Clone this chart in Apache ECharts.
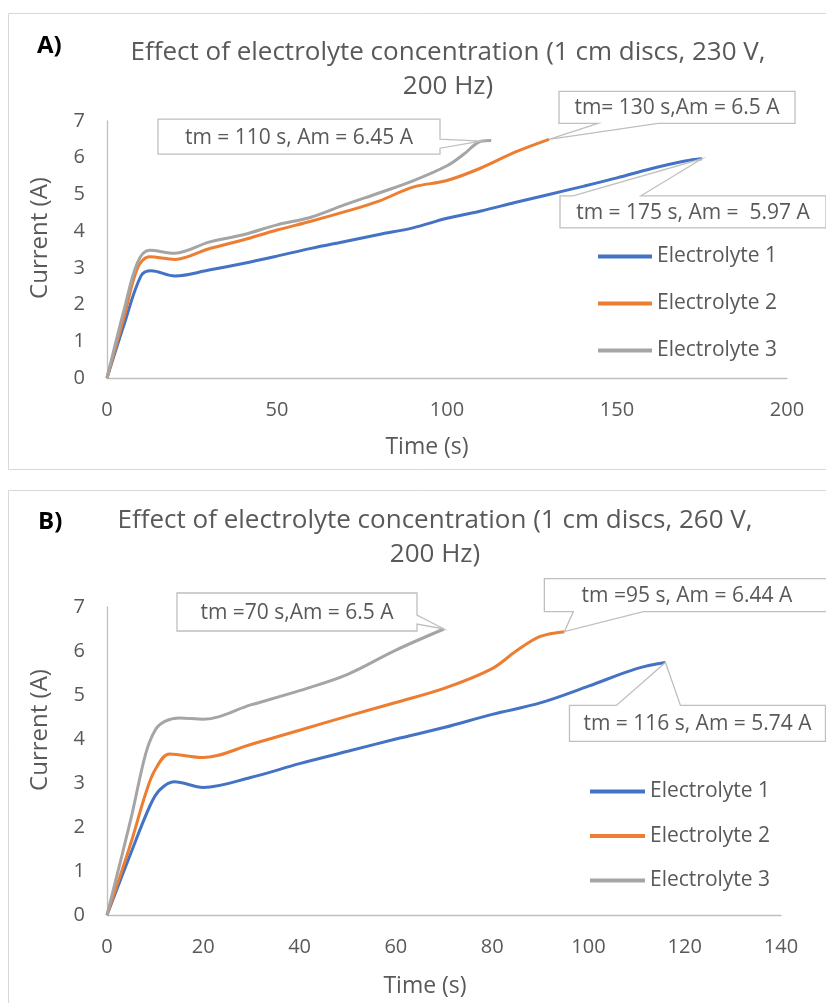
<!DOCTYPE html>
<html>
<head>
<meta charset="utf-8">
<script src="https://cdn.jsdelivr.net/npm/echarts@6/dist/echarts.min.js"></script>
<style>
  body { margin: 0; background: #fff; width: 826px; height: 1003px; overflow: hidden; position: relative; }
  #chartA { position: absolute; left: 0; top: 0; width: 826px; height: 480px; }
  #chartB { position: absolute; left: 0; top: 480px; width: 826px; height: 523px; }
</style>
</head>
<body>
<div id="chartA"></div>
<div id="chartB"></div>
<script>
var seriesNames = ['Electrolyte 1', 'Electrolyte 2', 'Electrolyte 3'];

// A) 230 V, 200 Hz  -- [time (s), current (A)]
var a_e1 = [[0,0],[5,1.45],[10,2.78],[13,2.92],[20,2.78],[30,2.94],[40,3.12],[50,3.32],[60,3.53],[70,3.72],[80,3.91],[90,4.09],[100,4.35],[110,4.55],[120,4.78],[130,5.0],[140,5.22],[150,5.45],[160,5.7],[170,5.91],[175,5.97]];
var a_e2 = [[0,0],[5,1.65],[9,3.0],[12.5,3.3],[20,3.23],[30,3.52],[40,3.76],[50,4.03],[60,4.27],[70,4.53],[80,4.82],[90,5.2],[100,5.38],[110,5.72],[120,6.15],[130,6.5]];
var a_e3 = [[0,0],[5,1.85],[9,3.15],[12.5,3.48],[20,3.4],[30,3.7],[40,3.9],[50,4.17],[60,4.38],[70,4.72],[80,5.04],[90,5.37],[100,5.78],[105,6.1],[110,6.45],[113,6.47]];
var a_maxPoints = [[110,6.45],[130,6.5],[175,5.97]];
var a_maxTexts = ['tm = 110 s, Am = 6.45 A', 'tm= 130 s,Am = 6.5 A', 'tm = 175 s, Am =  5.97 A'];

// B) 260 V, 200 Hz
var b_e1 = [[0,0],[5,1.42],[9,2.5],[11,2.85],[14,3.03],[20,2.9],[30,3.13],[40,3.44],[50,3.72],[60,4.0],[70,4.26],[80,4.56],[90,4.82],[100,5.2],[110,5.6],[116,5.74]];
var b_e2 = [[0,0],[5,1.65],[8,2.75],[10,3.3],[13,3.66],[20,3.58],[30,3.88],[40,4.2],[50,4.52],[60,4.83],[70,5.15],[80,5.6],[85,6.0],[90,6.33],[95,6.44]];
var b_e3 = [[0,0],[5,2.2],[8,3.65],[10,4.2],[12,4.4],[15,4.48],[20,4.45],[30,4.78],[40,5.1],[50,5.47],[60,6.02],[70,6.5]];
var b_maxPoints = [[70,6.5],[95,6.44],[116,5.74]];
var b_maxTexts = ['tm =70 s,Am = 6.5 A', 'tm =95 s, Am = 6.44 A', 'tm = 116 s, Am = 5.74 A'];

var colors = ['#4472C4', '#ED7D31', '#A5A5A5'];
var textColor = '#595959';
var fontFam = '"Open Sans", sans-serif';

// callout boxes, in pixels relative to the pointed data point
var a_boxes = [
  { side: 'right',  dx: -323, dy: -22, w: 282, h: 35, b1: 20, b2: 29 },
  { side: 'bottom', dx: 10,   dy: -48, w: 236, h: 32, b1: 39, b2: 99 },
  { side: 'top',    dx: -142, dy: 37,  w: 266, h: 32, b1: 13, b2: 81 }
];
var b_boxes = [
  { side: 'right',  dx: -267, dy: -36, w: 240, h: 38, b1: 22, b2: 31 },
  { side: 'bottom', dx: -20,  dy: -53, w: 285, h: 33, b1: 29, b2: 99 },
  { side: 'top',    dx: -96,  dy: 43,  w: 256, h: 36, b1: 47, b2: 111 }
];

function calloutRender(texts, boxes) {
  return function (params, api) {
    var i = params.dataIndex;
    var p = api.coord([api.value(0), api.value(1)]);
    var b = boxes[i];
    var x0 = p[0] + b.dx, y0 = p[1] + b.dy, x1 = x0 + b.w, y1 = y0 + b.h;
    var pts;
    if (b.side === 'right') {
      pts = [[x0, y0], [x1, y0], [x1, y0 + b.b1], p, [x1, y0 + b.b2], [x1, y1], [x0, y1]];
    } else if (b.side === 'bottom') {
      pts = [[x0, y0], [x1, y0], [x1, y1], [x0 + b.b2, y1], p, [x0 + b.b1, y1], [x0, y1]];
    } else {
      pts = [[x0, y0], [x0 + b.b1, y0], p, [x0 + b.b2, y0], [x1, y0], [x1, y1], [x0, y1]];
    }
    return {
      type: 'group',
      children: [
        { type: 'polygon', shape: { points: pts }, style: { fill: '#fff', stroke: '#bfbfbf', lineWidth: 1.3 } },
        { type: 'text', x: (x0 + x1) / 2, y: (y0 + y1) / 2 + 1,
          style: { text: texts[i], fill: textColor, font: '21px ' + fontFam, align: 'center', verticalAlign: 'middle' } }
      ]
    };
  };
}

function lineSeries(name, data, color) {
  return {
    name: name, type: 'line', data: data, smooth: 0.35,
    showSymbol: false, symbol: 'none',
    lineStyle: { color: color, width: 3 }, itemStyle: { color: color },
    emphasis: { disabled: true }, z: 3
  };
}

function makeOption(cfg) {
  return {
    animation: false,
    textStyle: { fontFamily: fontFam },
    title: {
      text: cfg.title, left: cfg.titleX, top: cfg.titleY, textAlign: 'center',
      textStyle: { fontSize: 26, lineHeight: cfg.titleLH, color: textColor, fontWeight: 'normal', fontFamily: fontFam }
    },
    legend: {
      data: seriesNames, orient: 'vertical', left: cfg.legendX, top: cfg.legendY, padding: 0,
      icon: 'rect', itemWidth: cfg.legendW, itemHeight: 4, itemGap: cfg.legendGap,
      textStyle: { fontSize: 21, lineHeight: 20, color: textColor, fontFamily: fontFam }
    },
    grid: cfg.grid,
    xAxis: {
      type: 'value', min: 0, max: cfg.xMax, interval: cfg.xStep,
      axisLine: { show: true, lineStyle: { color: '#bfbfbf', width: 1.3 } },
      axisTick: { show: false }, splitLine: { show: false },
      axisLabel: { color: textColor, fontSize: 20, margin: 22, showMinLabel: true, showMaxLabel: true, fontFamily: fontFam }
    },
    yAxis: {
      type: 'value', min: 0, max: 7, interval: 1,
      axisLine: { show: true, lineStyle: { color: '#bfbfbf', width: 1.3 } },
      axisTick: { show: false }, splitLine: { show: false },
      axisLabel: { color: textColor, fontSize: 20, margin: 22, showMinLabel: true, showMaxLabel: true, fontFamily: fontFam }
    },
    graphic: [
      { type: 'rect', shape: { x: 8.5, y: cfg.frameY, width: 840, height: cfg.frameH }, style: { fill: 'none', stroke: '#d9d9d9', lineWidth: 1 }, silent: true },
      { type: 'text', x: cfg.tagX, y: cfg.tagY, style: { text: cfg.tag, fill: '#000', font: 'bold 24px ' + fontFam, verticalAlign: 'middle' } },
      { type: 'text', x: cfg.yNameX, y: cfg.yNameY, rotation: Math.PI / 2,
        style: { text: 'Current (A)', fill: textColor, font: '24px ' + fontFam, align: 'center', verticalAlign: 'middle' } },
      { type: 'text', x: cfg.xNameX, y: cfg.xNameY,
        style: { text: 'Time (s)', fill: textColor, font: '23px ' + fontFam, align: 'center', verticalAlign: 'middle' } }
    ],
    series: [
      lineSeries(seriesNames[0], cfg.data[0], colors[0]),
      lineSeries(seriesNames[1], cfg.data[1], colors[1]),
      lineSeries(seriesNames[2], cfg.data[2], colors[2]),
      { type: 'custom', data: cfg.maxPoints, clip: false, z: 5, silent: true,
        renderItem: calloutRender(cfg.maxTexts, cfg.boxes) }
    ]
  };
}

var chartA = echarts.init(document.getElementById('chartA'));
chartA.setOption(makeOption({
  title: 'Effect of electrolyte concentration (1 cm discs, 230 V,\n200 Hz)',
  titleX: 443, titleY: 31, titleLH: 34,
  legendX: 598, legendY: 246, legendW: 54, legendGap: 26,
  grid: { left: 107, right: 39, top: 121, bottom: 102 },
  xMax: 200, xStep: 50,
  frameY: 13.5, frameH: 456,
  tag: 'A)', tagX: 37, tagY: 46,
  yNameX: 40, yNameY: 238, xNameX: 427, xNameY: 447,
  data: [a_e1, a_e2, a_e3],
  maxPoints: a_maxPoints, maxTexts: a_maxTexts, boxes: a_boxes
}));

var chartB = echarts.init(document.getElementById('chartB'));
chartB.setOption(makeOption({
  title: 'Effect of electrolyte concentration (1 cm discs, 260 V,\n200 Hz)',
  titleX: 430, titleY: 19, titleLH: 34,
  legendX: 590, legendY: 301, legendW: 55, legendGap: 23.5,
  grid: { left: 107, right: 45, top: 127, bottom: 88 },
  xMax: 140, xStep: 20,
  frameY: 10.5, frameH: 600,
  tag: 'B)', tagX: 38, tagY: 42,
  yNameX: 40, yNameY: 250, xNameX: 425, xNameY: 506,
  data: [b_e1, b_e2, b_e3],
  maxPoints: b_maxPoints, maxTexts: b_maxTexts, boxes: b_boxes
}));
</script>
</body>
</html>
